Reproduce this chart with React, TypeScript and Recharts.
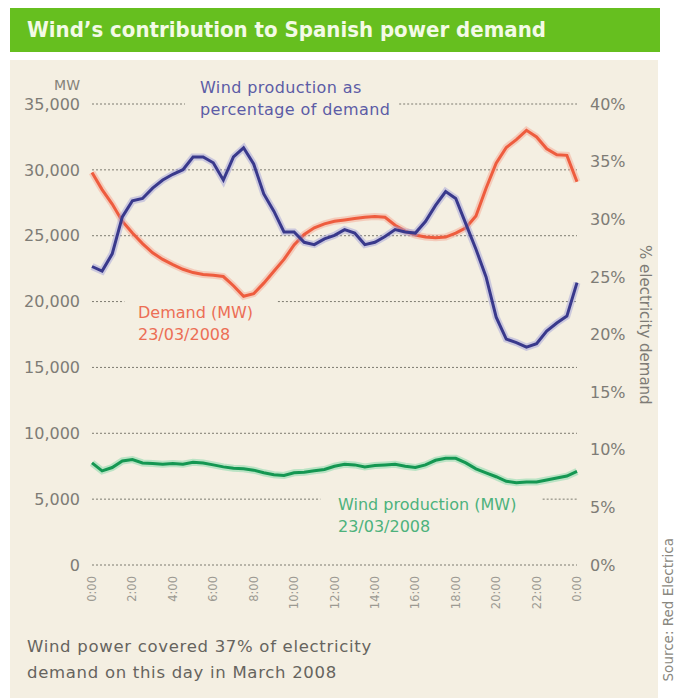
import { Line, LineChart, ReferenceLine, XAxis, YAxis } from "recharts";

// half-hourly readings, 0:00 to 0:00 (49 points)
const demandMW = [
  29800, 28500, 27400, 26100, 25200, 24400, 23700, 23200, 22800, 22450,
  22200, 22050, 22000, 21900, 21200, 20400, 20600, 21400, 22300, 23200,
  24300, 25100, 25600, 25900, 26100, 26200, 26300, 26400, 26450, 26400,
  25800, 25350, 25050, 24900, 24850, 24900, 25200, 25600, 26500, 28600,
  30500, 31700, 32300, 33000, 32500, 31600, 31150, 31100, 29100,
];

const windMW = [
  7750, 7150, 7400, 7900, 8000, 7750, 7700, 7650, 7700, 7650,
  7800, 7750, 7600, 7450, 7350, 7300, 7200, 7000, 6850, 6800,
  7000, 7050, 7150, 7250, 7500, 7650, 7600, 7450, 7550, 7600,
  7650, 7500, 7400, 7600, 7950, 8100, 8100, 7750, 7300, 7000,
  6700, 6350, 6250, 6300, 6300, 6450, 6600, 6750, 7100,
];

const windPct = [
  25.9, 25.5, 27.0, 30.2, 31.6, 31.8, 32.7, 33.4, 33.9, 34.3,
  35.4, 35.4, 34.9, 33.4, 35.4, 36.2, 34.8, 32.2, 30.7, 28.9,
  28.9, 28.0, 27.8, 28.3, 28.6, 29.1, 28.8, 27.8, 28.0, 28.5,
  29.1, 28.9, 28.8, 29.8, 31.2, 32.4, 31.8, 29.6, 27.4, 25.0,
  21.5, 19.6, 19.3, 18.9, 19.2, 20.3, 21.0, 21.6, 24.5,
];

const hourTicks = [0, 2, 4, 6, 8, 10, 12, 14, 16, 18, 20, 22, 24];
const hourLabels = ["0:00", "2:00", "4:00", "6:00", "8:00", "10:00", "12:00", "14:00", "16:00", "18:00", "20:00", "22:00", "0:00"];
const mwTicks = [0, 5000, 10000, 15000, 20000, 25000, 30000, 35000];
const pctTicks = [0, 5, 10, 15, 20, 25, 30, 35, 40];

// dotted grid, broken where the labels sit
const gridSegments = [
  { y: 35000, from: 0, to: 4.6 },
  { y: 35000, from: 15.2, to: 24 },
  { y: 30000, from: 0, to: 24 },
  { y: 25000, from: 0, to: 24 },
  { y: 20000, from: 0, to: 1.6 },
  { y: 20000, from: 9.2, to: 24 },
  { y: 15000, from: 0, to: 24 },
  { y: 10000, from: 0, to: 24 },
  { y: 5000, from: 0, to: 11.3 },
  { y: 5000, from: 22.3, to: 24 },
  { y: 0, from: 0, to: 24 },
];

const data = demandMW.map((demand, i) => ({
  t: i * 0.5,
  demand,
  wind: windMW[i],
  pct: windPct[i],
}));

const FONT = "'DejaVu Sans', sans-serif";

function HourTick(props: any) {
  const { x, y, payload } = props;
  const idx = hourTicks.indexOf(payload.value);
  return (
    <text
      x={x}
      y={y}
      transform={`rotate(-90, ${x}, ${y})`}
      textAnchor="end"
      dy="0.35em"
      fill="#9c9a92"
      fontSize={11.5}
      fontFamily={FONT}
    >
      {hourLabels[idx]}
    </text>
  );
}

export default function App() {
  return (
    <div
      style={{
        position: "absolute",
        left: 0,
        top: 0,
        width: 678,
        height: 698,
        background: "#ffffff",
        overflow: "hidden",
        fontFamily: FONT,
      }}
    >
      <div
        style={{
          position: "absolute",
          left: 10,
          top: 8,
          width: 650,
          height: 44,
          background: "#66bf1f",
        }}
      >
        <div
          style={{
            position: "absolute",
            left: 17,
            top: 0,
            lineHeight: "44px",
            fontSize: 22,
            fontWeight: "bold",
            color: "#f3fae6",
            fontFamily: "'DejaVu Sans Condensed', 'DejaVu Sans', sans-serif",
            fontStretch: "condensed",
            whiteSpace: "nowrap",
          }}
        >
          Wind’s contribution to Spanish power demand
        </div>
      </div>

      <div
        style={{
          position: "absolute",
          left: 10,
          top: 60,
          width: 648,
          height: 638,
          background: "#f4efe2",
        }}
      />

      <div style={{ position: "absolute", left: 0, top: 0 }}>
        <LineChart
          width={678}
          height={698}
          data={data}
          margin={{ top: 104, right: 41, bottom: 83, left: 32 }}
        >
          <XAxis
            dataKey="t"
            type="number"
            domain={[0, 24]}
            ticks={hourTicks}
            axisLine={false}
            tickLine={false}
            tickSize={0}
            tickMargin={11}
            height={50}
            interval={0}
            tick={<HourTick />}
          />
          <YAxis
            yAxisId="mw"
            domain={[0, 35000]}
            ticks={mwTicks}
            width={60}
            axisLine={false}
            tickLine={false}
            tickSize={0}
            tickMargin={12}
            interval={0}
            tickFormatter={(v: number) => v.toLocaleString("en-US")}
            tick={{ fill: "#7e7c76", fontSize: 16, fontFamily: FONT }}
          />
          <YAxis
            yAxisId="pct"
            orientation="right"
            domain={[0, 40]}
            ticks={pctTicks}
            width={60}
            axisLine={false}
            tickLine={false}
            tickSize={0}
            tickMargin={13}
            interval={0}
            tickFormatter={(v: number) => `${v}%`}
            tick={{ fill: "#7e7c76", fontSize: 16, fontFamily: FONT, textAnchor: "start" }}
          />
          {gridSegments.map((g, i) => (
            <ReferenceLine
              key={i}
              yAxisId="mw"
              segment={[
                { x: g.from, y: g.y },
                { x: g.to, y: g.y },
              ]}
              stroke="#7d7b70"
              strokeDasharray="2 2"
              strokeWidth={1}
              ifOverflow="visible"
            />
          ))}
          <Line yAxisId="mw" dataKey="demand" type="linear" stroke="#f4a08a" strokeOpacity={0.45} strokeWidth={7} dot={false} isAnimationActive={false} />
          <Line yAxisId="mw" dataKey="demand" type="linear" stroke="#ee5c3e" strokeWidth={3} dot={false} isAnimationActive={false} />
          <Line yAxisId="pct" dataKey="pct" type="linear" stroke="#9a9ad6" strokeOpacity={0.45} strokeWidth={7} dot={false} isAnimationActive={false} />
          <Line yAxisId="pct" dataKey="pct" type="linear" stroke="#39398c" strokeWidth={3} dot={false} isAnimationActive={false} />
          <Line yAxisId="mw" dataKey="wind" type="linear" stroke="#7fd8a5" strokeOpacity={0.5} strokeWidth={7} dot={false} isAnimationActive={false} />
          <Line yAxisId="mw" dataKey="wind" type="linear" stroke="#149752" strokeWidth={3} dot={false} isAnimationActive={false} />
        </LineChart>
      </div>

      <div style={{ position: "absolute", left: 40, top: 77, width: 40, textAlign: "right", fontSize: 14, color: "#858379" }}>
        MW
      </div>

      <div style={{ position: "absolute", left: 200, top: 77, fontSize: 16, letterSpacing: 0.4, lineHeight: "22px", color: "#5c5ca6", whiteSpace: "nowrap" }}>
        Wind production as
        <br />
        percentage of demand
      </div>

      <div style={{ position: "absolute", left: 138, top: 302, fontSize: 16, lineHeight: "22px", color: "#ec6e55", whiteSpace: "nowrap" }}>
        Demand (MW)
        <br />
        23/03/2008
      </div>

      <div style={{ position: "absolute", left: 338, top: 494, fontSize: 16, lineHeight: "22px", color: "#4db27c", whiteSpace: "nowrap" }}>
        Wind production (MW)
        <br />
        23/03/2008
      </div>

      <div
        style={{
          position: "absolute",
          left: 636,
          top: 245,
          writingMode: "vertical-rl",
          fontSize: 15,
          color: "#7e7c76",
          whiteSpace: "nowrap",
        }}
      >
        % electricity demand
      </div>

      <div
        style={{
          position: "absolute",
          left: 660,
          top: 538,
          writingMode: "vertical-rl",
          transform: "rotate(180deg)",
          fontSize: 13.5,
          lineHeight: "16px",
          color: "#8a8880",
          whiteSpace: "nowrap",
        }}
      >
        Source: Red Electrica
      </div>

      <div style={{ position: "absolute", left: 27, top: 634, fontSize: 16.5, letterSpacing: 0.7, lineHeight: "26px", color: "#66645e", whiteSpace: "nowrap" }}>
        Wind power covered 37% of electricity
        <br />
        demand on this day in March 2008
      </div>
    </div>
  );
}
